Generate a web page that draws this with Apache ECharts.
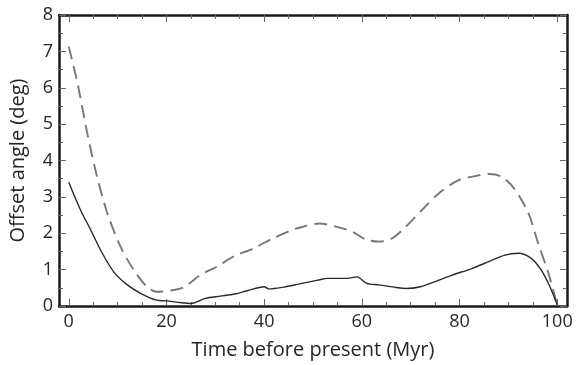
<!DOCTYPE html>
<html>
<head>
<meta charset="utf-8">
<script src="https://cdn.jsdelivr.net/npm/echarts@6/dist/echarts.min.js"></script>
<style>html,body{margin:0;padding:0;background:#fff}#c{width:578px;height:365px}</style>
</head>
<body>
<div id="c"></div>
<script>
var solidX = [0, 2.4, 4.5, 6.5, 9.2, 12, 14.7, 18, 20, 22.5, 25, 28, 31, 34, 36.5, 40, 41, 44, 47, 51, 53, 57, 59, 61, 63.5, 67, 69, 72, 75, 78.5, 82.5, 86, 89.3, 92, 94.7, 96.7, 98.5, 100];
var solidY = [3.4, 2.64, 2.09, 1.54, 0.94, 0.58, 0.35, 0.16, 0.14, 0.1, 0.07, 0.21, 0.27, 0.33, 0.42, 0.53, 0.47, 0.52, 0.6, 0.71, 0.76, 0.76, 0.8, 0.62, 0.58, 0.51, 0.48, 0.53, 0.67, 0.85, 1.03, 1.22, 1.4, 1.45, 1.31, 0.99, 0.53, 0.03];
var dashX = [0, 1.8, 3.8, 5.8, 7.9, 10.6, 13.3, 16, 18, 21.5, 23.8, 26.9, 30.3, 33.6, 37.7, 41.8, 45.9, 48, 51.3, 54.7, 58.1, 60.8, 63.5, 66.2, 69, 72.3, 75.8, 79.8, 83.2, 86, 88.7, 91.4, 94.1, 96.1, 98.2, 100];
var dashY = [7.13, 6.12, 4.74, 3.55, 2.55, 1.63, 0.99, 0.53, 0.39, 0.44, 0.53, 0.85, 1.08, 1.35, 1.58, 1.86, 2.1, 2.18, 2.27, 2.18, 2.04, 1.83, 1.77, 1.86, 2.18, 2.64, 3.1, 3.46, 3.57, 3.63, 3.55, 3.19, 2.55, 1.72, 0.9, 0.03];
var xMajor = [0, 20, 40, 60, 80, 100];
var xMinor = [5, 10, 15, 25, 30, 35, 45, 50, 55, 65, 70, 75, 85, 90, 95];
var xName = 'Time before present (Myr)';
var yName = 'Offset angle (deg)';

function zip(a, b) { return a.map(function (v, i) { return [v, b[i]]; }); }
var FONT = 'Open Sans';
var lineCol = '#1a1a1a';
var txtCol = '#262626';
function xAx(pos, ticks, len, showLine, showLabel, name) {
  return {
    type: 'value', position: pos, min: -2, max: 102,
    axisLine: { show: showLine, onZero: false, lineStyle: { color: lineCol, width: 2.5 } },
    axisTick: { show: true, inside: true, length: len, customValues: ticks, lineStyle: { color: '#666', width: 1 } },
    axisLabel: { show: showLabel, customValues: ticks, margin: 7, fontFamily: FONT, fontSize: 18, color: txtCol },
    splitLine: { show: false },
    name: name || '', nameLocation: 'middle', nameGap: 34,
    nameTextStyle: { fontFamily: FONT, fontSize: 20, color: txtCol }
  };
}
function yAx(pos, showLabel, name) {
  return {
    type: 'value', position: pos, min: 0, max: 8, interval: 1,
    axisLine: { show: true, onZero: false, lineStyle: { color: lineCol, width: 2.5 } },
    axisTick: { show: true, inside: true, length: 7, lineStyle: { color: '#666', width: 1 } },
    minorTick: { show: true, splitNumber: 2, length: 4, lineStyle: { color: '#666', width: 1 } },
    axisLabel: { show: showLabel, margin: 6, fontFamily: FONT, fontSize: 18, color: txtCol },
    splitLine: { show: false },
    name: name || '', nameLocation: 'middle', nameGap: 31,
    nameTextStyle: { fontFamily: FONT, fontSize: 20, color: txtCol }
  };
}
var chart = echarts.init(document.getElementById('c'));
chart.setOption({
  animation: false,
  grid: { left: 58, right: 11, top: 15, bottom: 59 },
  xAxis: [
    xAx('bottom', xMajor, 7, true, true, xName),
    xAx('bottom', xMinor, 4, false, false),
    xAx('top', xMajor, 7, true, false),
    xAx('top', xMinor, 4, false, false)
  ],
  yAxis: [yAx('left', true, yName), yAx('right', false)],
  series: [
    { type: 'line', xAxisIndex: 0, yAxisIndex: 0, data: zip(dashX, dashY), smooth: 0.3, showSymbol: false,
      lineStyle: { color: '#777', width: 1.9, type: [13, 7] } },
    { type: 'line', xAxisIndex: 0, yAxisIndex: 0, data: zip(solidX, solidY), smooth: 0.3, showSymbol: false,
      lineStyle: { color: '#2a2a2a', width: 1.4 } }
  ]
});
</script>
</body>
</html>
